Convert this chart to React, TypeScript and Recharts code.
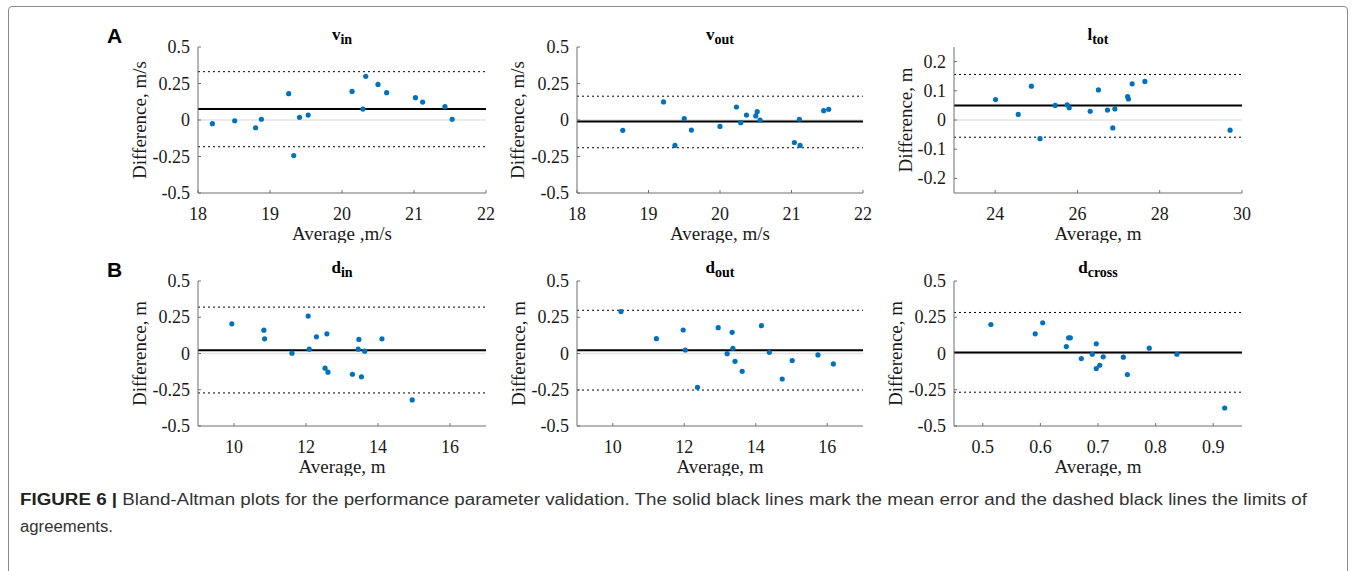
import React from 'react';
import { ScatterChart, Scatter, XAxis, YAxis, ReferenceLine, Label } from 'recharts';

// ---------- data ----------
const vinAvg = [18.2, 18.51, 18.8, 18.88, 19.26, 19.33, 19.41, 19.53, 20.14, 20.29, 20.33, 20.5, 20.62, 21.02, 21.12, 21.43, 21.53];
const vinDiff = [-0.025, -0.005, -0.053, 0.005, 0.18, -0.244, 0.018, 0.034, 0.196, 0.075, 0.299, 0.244, 0.187, 0.153, 0.123, 0.091, 0.005];
const vinLines = [0.075, 0.331, -0.183];

const voutAvg = [18.64, 19.21, 19.37, 19.5, 19.6, 20.0, 20.23, 20.29, 20.37, 20.5, 20.52, 20.56, 21.04, 21.11, 21.12, 21.45, 21.52];
const voutDiff = [-0.071, 0.124, -0.174, 0.009, -0.069, -0.044, 0.089, -0.018, 0.034, 0.028, 0.057, 0.0, -0.154, 0.005, -0.174, 0.064, 0.073];
const voutLines = [-0.011, 0.163, -0.19];

const ltotAvg = [24.01, 24.56, 24.88, 25.09, 25.46, 25.75, 25.8, 26.31, 26.51, 26.73, 26.86, 26.91, 27.22, 27.24, 27.33, 27.64, 29.71];
const ltotDiff = [0.07, 0.019, 0.116, -0.064, 0.05, 0.052, 0.042, 0.03, 0.103, 0.034, -0.027, 0.038, 0.08, 0.072, 0.124, 0.132, -0.035];
const ltotLines = [0.05, 0.156, -0.059];

const dinAvg = [9.94, 10.83, 10.85, 11.61, 12.06, 12.09, 12.29, 12.53, 12.58, 12.61, 13.29, 13.47, 13.45, 13.54, 13.63, 14.11, 14.95];
const dinDiff = [0.205, 0.161, 0.101, 0.002, 0.258, 0.03, 0.115, -0.101, 0.136, -0.129, -0.143, 0.097, 0.03, -0.161, 0.016, 0.101, -0.32];
const dinLines = [0.023, 0.32, -0.272];

const doutAvg = [10.23, 11.22, 11.97, 12.03, 12.37, 12.95, 13.2, 13.34, 13.36, 13.42, 13.62, 14.16, 14.38, 14.74, 15.02, 15.74, 16.17];
const doutDiff = [0.289, 0.102, 0.162, 0.024, -0.233, 0.178, -0.001, 0.146, 0.036, -0.054, -0.123, 0.192, 0.008, -0.176, -0.049, -0.01, -0.072];
const doutLines = [0.022, 0.298, -0.252];

const dcrossAvg = [0.514, 0.591, 0.604, 0.645, 0.649, 0.652, 0.671, 0.69, 0.697, 0.697, 0.703, 0.709, 0.744, 0.751, 0.789, 0.837, 0.92];
const dcrossDiff = [0.2, 0.136, 0.212, 0.048, 0.108, 0.108, -0.035, -0.005, -0.104, 0.067, -0.081, -0.023, -0.025, -0.145, 0.037, -0.005, -0.376];
const dcrossLines = [0.007, 0.283, -0.267];

const speedXTicks = [18, 19, 20, 21, 22];
const ltotXTicks = [24, 26, 28, 30];
const distXTicks = [10, 12, 14, 16];
const crossXTicks = [0.5, 0.6, 0.7, 0.8, 0.9];
const halfYTicks = [-0.5, -0.25, 0, 0.25, 0.5];
const ltotYTicks = [-0.2, -0.1, 0, 0.1, 0.2];

const captionLine1Bold = 'FIGURE 6';
const captionLine1 = 'Bland-Altman plots for the performance parameter validation. The solid black lines mark the mean error and the dashed black lines the limits of';
const captionLine2 = 'agreements.';

// ---------- styles ----------
const SERIF = "'Liberation Serif', 'Times New Roman', serif";
const SANS = "'Liberation Sans', Arial, sans-serif";
const AXIS = '#6e6e6e';
const DOT = '#0072BD';
const TICK_FS = 18;
const LABEL_FS = 19;

const toPoints = (xs: number[], ys: number[]) => xs.map((x, i) => ({ x, y: ys[i] }));

const XTick = (props: any) => {
  const { x, y, payload } = props;
  return (
    <g>
      <line x1={x} x2={x} y1={y} y2={y - 3} stroke={AXIS} strokeWidth={1} />
      <text x={x} y={y + 27} textAnchor="middle" fontSize={TICK_FS} fontFamily={SERIF} fill="#1a1a1a">
        {String(payload.value)}
      </text>
    </g>
  );
};

const YTick = (props: any) => {
  const { x, y, payload } = props;
  return (
    <g>
      <line x1={x} x2={x + 3} y1={y} y2={y} stroke={AXIS} strokeWidth={1} />
      <text x={x - 8} y={y + 6} textAnchor="end" fontSize={TICK_FS} fontFamily={SERIF} fill="#1a1a1a">
        {String(payload.value)}
      </text>
    </g>
  );
};

const Dot = (p: any) => <circle cx={p.cx} cy={p.cy} r={2.6} fill={DOT} />;

type PanelProps = {
  left: number;
  top: number;
  w: number;
  h: number;
  xs: number[];
  ys: number[];
  lines: number[];
  xDomain: [number, number];
  xTicks: number[];
  yDomain: [number, number];
  yTicks: number[];
  xLabel: string;
  yLabel: string;
  yLabelOffset: number;
};

const YW = 80;
const MT = 20;
const MR = 10;
const XH = 50;

function Panel(p: PanelProps) {
  const data = toPoints(p.xs, p.ys);
  return (
    <div style={{ position: 'absolute', left: p.left - YW, top: p.top - MT }}>
      <ScatterChart width={YW + p.w + MR} height={MT + p.h + XH} margin={{ top: MT, right: MR, bottom: 0, left: 0 }}>
        <XAxis
          type="number"
          dataKey="x"
          domain={p.xDomain}
          ticks={p.xTicks}
          interval={0}
          allowDataOverflow
          height={XH}
          tickSize={0}
          tickMargin={0}
          tickLine={false}
          axisLine={{ stroke: AXIS, strokeWidth: 1 }}
          tick={<XTick />}
        >
          <Label
            value={p.xLabel}
            position="insideBottom"
            offset={3}
            style={{ fontSize: LABEL_FS, fontFamily: SERIF, fill: '#1a1a1a' }}
          />
        </XAxis>
        <YAxis
          type="number"
          dataKey="y"
          domain={p.yDomain}
          ticks={p.yTicks}
          interval={0}
          allowDataOverflow
          width={YW}
          tickSize={0}
          tickMargin={0}
          tickLine={false}
          axisLine={{ stroke: AXIS, strokeWidth: 1 }}
          tick={<YTick />}
        >
          <Label
            value={p.yLabel}
            angle={-90}
            position="insideLeft"
            offset={p.yLabelOffset}
            style={{ textAnchor: 'middle', fontSize: LABEL_FS, fontFamily: SERIF, fill: '#1a1a1a' }}
          />
        </YAxis>
        <ReferenceLine y={0} stroke="#e4e4e4" strokeWidth={1.5} />
        <ReferenceLine y={p.lines[1]} stroke="#000" strokeWidth={1} strokeDasharray="2 3" />
        <ReferenceLine y={p.lines[2]} stroke="#000" strokeWidth={1} strokeDasharray="2 3" />
        <ReferenceLine y={p.lines[0]} stroke="#000" strokeWidth={2} />
        <Scatter data={data} shape={<Dot />} isAnimationActive={false} />
      </ScatterChart>
    </div>
  );
}

const Title = ({ cx, y, main, sub }: { cx: number; y: number; main: string; sub: string }) => (
  <text x={cx} y={y} textAnchor="middle" fontFamily={SERIF} fontWeight="bold" fill="#000">
    <tspan fontSize={17}>{main}</tspan>
    <tspan fontSize={14} dy={4}>{sub}</tspan>
  </text>
);

export default function App() {
  return (
    <div style={{ position: 'absolute', left: 0, top: 0, width: 1357, height: 571, overflow: 'hidden', background: '#fff' }}>
      <div
        style={{
          position: 'absolute',
          left: 8,
          top: 6,
          width: 1340,
          height: 620,
          border: '1px solid #8a8a8a',
          borderRadius: 4,
          boxSizing: 'border-box',
        }}
      />
      <Panel left={198} top={47} w={288} h={146} xs={vinAvg} ys={vinDiff} lines={vinLines} xDomain={[18, 22]} xTicks={speedXTicks} yDomain={[-0.5, 0.5]} yTicks={halfYTicks} xLabel="Average ,m/s" yLabel="Difference, m/s" yLabelOffset={21} />
      <Panel left={577} top={47} w={286} h={146} xs={voutAvg} ys={voutDiff} lines={voutLines} xDomain={[18, 22]} xTicks={speedXTicks} yDomain={[-0.5, 0.5]} yTicks={halfYTicks} xLabel="Average, m/s" yLabel="Difference, m/s" yLabelOffset={20} />
      <Panel left={954} top={47} w={288} h={146} xs={ltotAvg} ys={ltotDiff} lines={ltotLines} xDomain={[23, 30]} xTicks={ltotXTicks} yDomain={[-0.25, 0.25]} yTicks={ltotYTicks} xLabel="Average, m" yLabel="Difference, m" yLabelOffset={31} />
      <Panel left={198} top={281} w={288} h={145} xs={dinAvg} ys={dinDiff} lines={dinLines} xDomain={[9, 17]} xTicks={distXTicks} yDomain={[-0.5, 0.5]} yTicks={halfYTicks} xLabel="Average, m" yLabel="Difference, m" yLabelOffset={21} />
      <Panel left={577} top={281} w={286} h={145} xs={doutAvg} ys={doutDiff} lines={doutLines} xDomain={[9, 17]} xTicks={distXTicks} yDomain={[-0.5, 0.5]} yTicks={halfYTicks} xLabel="Average, m" yLabel="Difference, m" yLabelOffset={21} />
      <Panel left={954} top={281} w={288} h={145} xs={dcrossAvg} ys={dcrossDiff} lines={dcrossLines} xDomain={[0.45, 0.95]} xTicks={crossXTicks} yDomain={[-0.5, 0.5]} yTicks={halfYTicks} xLabel="Average, m" yLabel="Difference, m" yLabelOffset={21} />
      <svg width={1357} height={571} style={{ position: 'absolute', left: 0, top: 0, pointerEvents: 'none' }}>
        <text x={107} y={43} fontFamily={SANS} fontWeight="bold" fontSize={21} fill="#000">A</text>
        <text x={107} y={277} fontFamily={SANS} fontWeight="bold" fontSize={21} fill="#000">B</text>
        <Title cx={342} y={40} main="v" sub="in" />
        <Title cx={720} y={40} main="v" sub="out" />
        <Title cx={1098} y={40} main="l" sub="tot" />
        <Title cx={342} y={273} main="d" sub="in" />
        <Title cx={720} y={273} main="d" sub="out" />
        <Title cx={1098} y={273} main="d" sub="cross" />
        <text x={20} y={505} fontFamily={SANS} fontSize={16} fill="#333" textLength={1287} lengthAdjust="spacingAndGlyphs">
          <tspan fontWeight="bold" fill="#222">{captionLine1Bold}</tspan>
          <tspan fontWeight="bold" fill="#222">{' | '}</tspan>
          <tspan>{captionLine1}</tspan>
        </text>
        <text x={20} y={532} fontFamily={SANS} fontSize={16} fill="#333" textLength={93} lengthAdjust="spacingAndGlyphs">
          {captionLine2}
        </text>
      </svg>
    </div>
  );
}
